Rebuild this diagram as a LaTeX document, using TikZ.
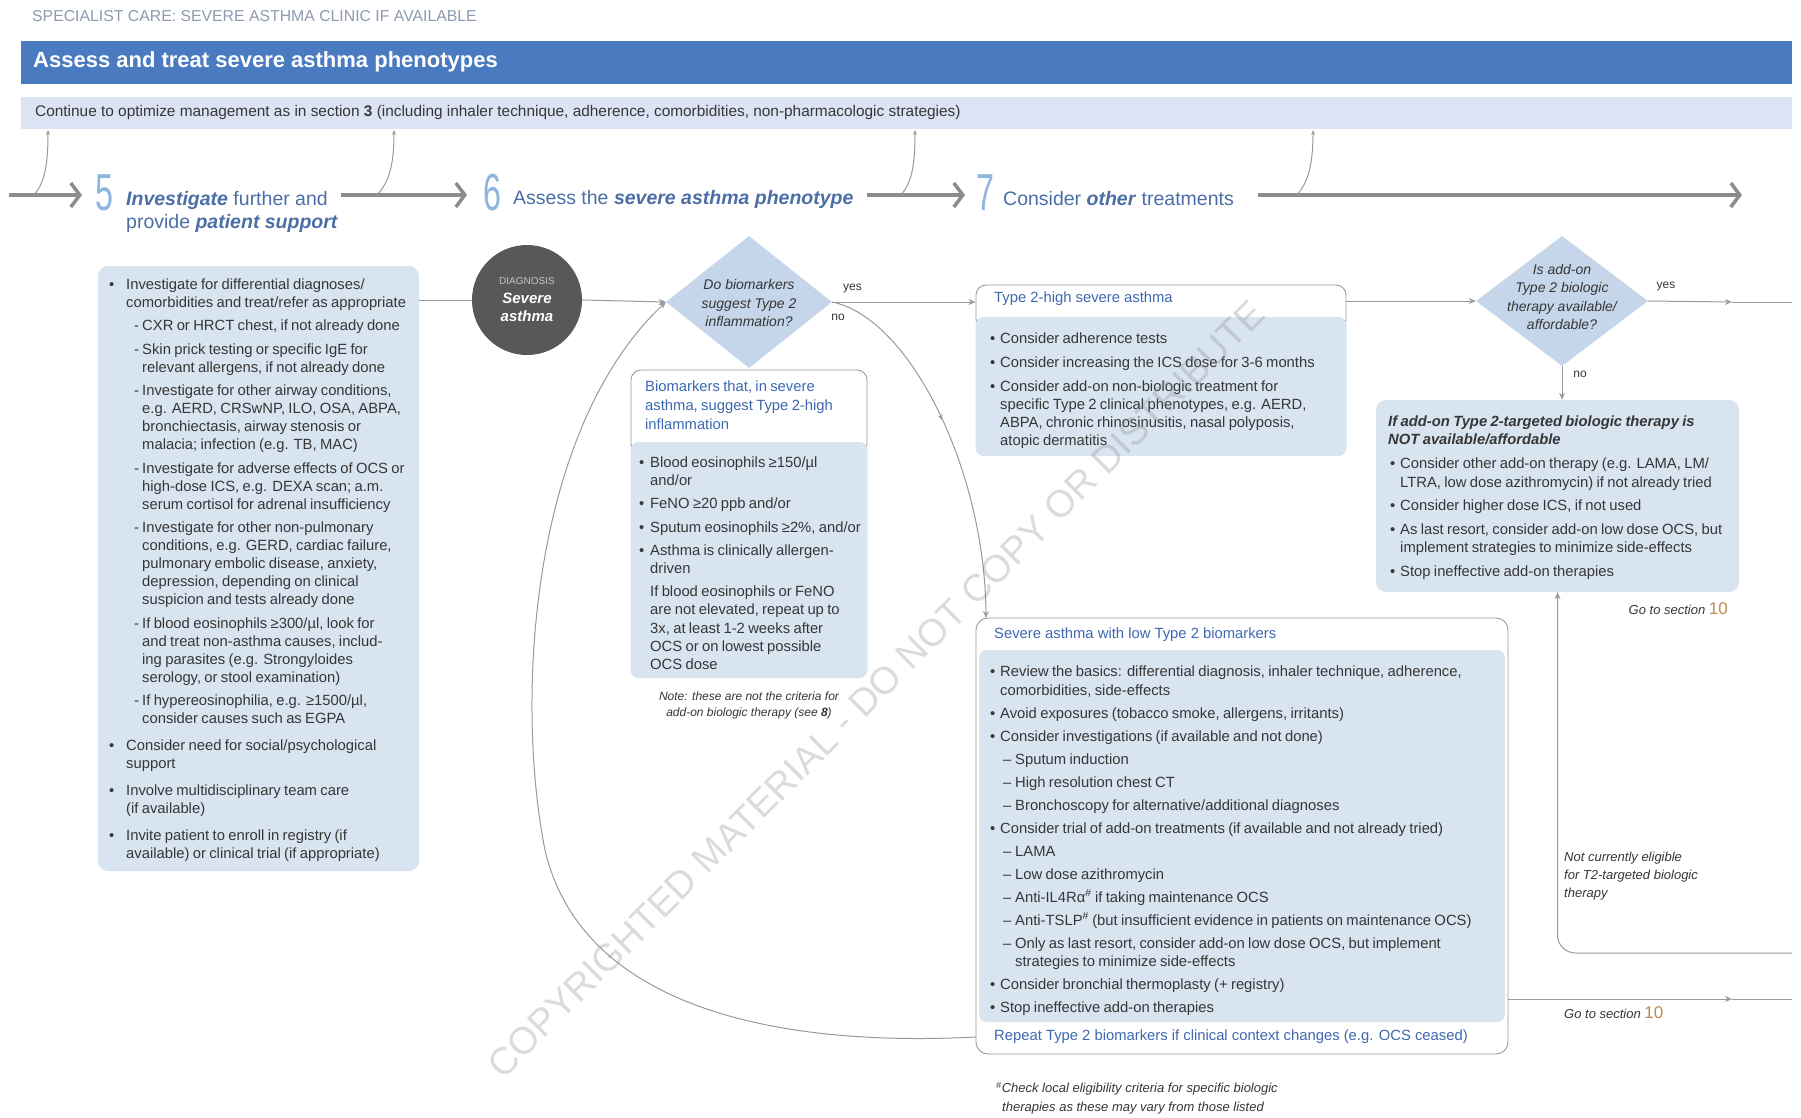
\documentclass[tikz,border=0pt]{standalone}
\usepackage{fontspec}
\setmainfont{Liberation Sans}
\usetikzlibrary{arrows.meta,shapes.geometric,calc,decorations.markings}

\definecolor{barblue}{HTML}{4A7BC1}
\definecolor{lightbar}{HTML}{DCE3F4}
\definecolor{boxfill}{HTML}{D9E4F1}
\definecolor{diafill}{HTML}{C5D6EA}
\definecolor{headblue}{HTML}{3E68B0}
\definecolor{stepblue}{HTML}{4C6EA6}
\definecolor{numblue}{HTML}{8EB4E0}
\definecolor{txt}{HTML}{363636}
\definecolor{arrgray}{HTML}{8C8C8C}
\definecolor{lngray}{HTML}{9A9A9A}
\definecolor{circfill}{HTML}{58585A}
\definecolor{topgray}{HTML}{8D9AB0}
\definecolor{orng}{HTML}{C08A4A}

\newcommand{\nl}{\hfil\break}
\newcommand{\dsh}{–}
\newlength{\bw}\newlength{\dl}\newlength{\dw}
\newcommand{\bi}[1]{\par\noindent\hangindent=\bw\hangafter=1\makebox[\bw][l]{\textbullet}#1}
\newcommand{\bix}[1]{\par\vskip3.5pt\noindent\hangindent=\bw\hangafter=1\makebox[\bw][l]{\textbullet}#1}
\newcommand{\si}[1]{\par\noindent\hangindent=\dimexpr\dl+\dw\relax\hangafter=1\hspace*{\dl}\makebox[\dw][l]{\dsh}#1}
\newcommand{\pl}[1]{\par\noindent\hangindent=\bw\hangafter=0 #1}

\tikzset{
  box/.style={rectangle, rounded corners=10pt, fill=boxfill, draw=none, inner sep=0pt},
  hbox/.style={rectangle, rounded corners=10pt, fill=white, draw=lngray, line width=0.9pt, inner sep=0pt},
  conn/.style={draw=lngray, line width=1pt},
  carr/.style={-{Stealth[length=7pt,width=6pt]}},
  uparr/.style={draw=lngray, line width=1pt, -{Stealth[length=5pt,width=4pt]}},
  bigarrow/.style={draw=arrgray, line width=4pt, -{Straight Barb[length=9pt,width=24pt,line width=3.5pt]}},
  txtblock/.style={inner sep=0pt, text width=440pt, text=txt},
  steptxt/.style={inner sep=0pt, text=stepblue, font=\fontsize{19.5}{23}\selectfont},
  num/.style={inner sep=0pt, text=numblue, font=\fontsize{52}{52}\selectfont},
  dtext/.style={inner sep=0pt, align=center, font=\fontsize{14}{18.5}\selectfont\itshape, text=txt},
  lbl/.style={inner sep=0pt, font=\fontsize{12}{14}\selectfont, text=txt},
  midarrow/.style={postaction={decorate, decoration={markings, mark=at position #1 with {\arrow{Stealth[length=6pt,width=5pt]}}}}}
}

\begin{document}
\begin{tikzpicture}[x=1pt,y=-1pt]
\useasboundingbox (0,0) rectangle (1801,1117);
\fill[white] (0,0) rectangle (1801,1117);

% ---------- header
\node[anchor=west, inner sep=0pt, text=topgray, font=\fontsize{15.8}{18}\selectfont] (sc) at (32,16) {SPECIALIST CARE: SEVERE ASTHMA CLINIC IF AVAILABLE};
\node[rectangle, fill=barblue, minimum width=1771pt, minimum height=43pt, inner sep=0pt, anchor=north west] (bar) at (21,41) {};
\node[anchor=west, inner sep=0pt, text=white, font=\fontsize{22}{24}\selectfont\bfseries] (bart) at (33,62) {Assess and treat severe asthma phenotypes};
\node[rectangle, fill=lightbar, minimum width=1771pt, minimum height=32pt, inner sep=0pt, anchor=north west] (lbar) at (21,97) {};
\node[anchor=west, inner sep=0pt, text=txt, font=\fontsize{15.4}{17}\selectfont] (lbart) at (35,113) {Continue to optimize management as in section \textbf{3} (including inhaler technique, adherence, comorbidities, non-pharmacologic strategies)};

% ---------- step row
\coordinate (a0s) at (9,195);   \coordinate (a0e) at (82,195);
\coordinate (a1s) at (341,195); \coordinate (a1e) at (467,195);
\coordinate (a2s) at (867,195); \coordinate (a2e) at (965,195);
\coordinate (a3s) at (1258,195);\coordinate (a3e) at (1742,195);
\draw[bigarrow] (a0s) -- (a0e);
\draw[bigarrow] (a1s) -- (a1e);
\draw[bigarrow] (a2s) -- (a2e);
\draw[bigarrow] (a3s) -- (a3e);

\coordinate (u1b) at (34,195);  \coordinate (u1t) at (48,130);
\coordinate (u2b) at (377,195); \coordinate (u2t) at (394,130);
\coordinate (u3b) at (901,195); \coordinate (u3t) at (915,130);
\coordinate (u4b) at (1297,195);\coordinate (u4t) at (1313,130);
\draw[uparr] (u1b) .. controls (44,183) and (48,168) .. (u1t);
\draw[uparr] (u2b) .. controls (388,183) and (394,168) .. (u2t);
\draw[uparr] (u3b) .. controls (911,183) and (915,168) .. (u3t);
\draw[uparr] (u4b) .. controls (1307,183) and (1313,168) .. (u4t);

\node[num, anchor=base] (n5) at (104,210) {\scalebox{0.62}[1]{5}};
\node[steptxt, anchor=north west, align=left] (t5) at (126,191) {\textbf{\textit{Investigate}} further and\\provide \textbf{\textit{patient support}}};
\node[num, anchor=base] (n6) at (492,210) {\scalebox{0.62}[1]{6}};
\node[steptxt, anchor=west] (t6) at (513,199) {Assess the \textbf{\textit{severe asthma phenotype}}};
\node[num, anchor=base] (n7) at (985,210) {\scalebox{0.62}[1]{7}};
\node[steptxt, anchor=west] (t7) at (1003,199) {Consider \textbf{\textit{other}} treatments};

% ---------- left box
\node[box, minimum width=321pt, minimum height=605pt] (lb) at (258.5,568.5) {};
\node[txtblock, anchor=north west] (lbt) at (109,265.5) {\fontsize{14.8}{18}\selectfont\renewcommand{\dsh}{-}\setlength{\bw}{17pt}\setlength{\dl}{25pt}\setlength{\dw}{8pt}\setlength{\parskip}{5.5pt}%
\bi{Investigate for differential diagnoses/\nl comorbidities and treat/refer as appropriate}
\si{CXR or HRCT chest, if not already done}
\si{Skin prick testing or specific IgE for\nl relevant allergens, if not already done}
\si{Investigate for other airway conditions,\nl e.g. AERD, CRSwNP, ILO, OSA, ABPA,\nl bronchiectasis, airway stenosis or\nl malacia; infection (e.g. TB, MAC)}
\si{Investigate for adverse effects of OCS or\nl high-dose ICS, e.g. DEXA scan; a.m.\nl serum cortisol for adrenal insufficiency}
\si{Investigate for other non-pulmonary\nl conditions, e.g. GERD, cardiac failure,\nl pulmonary embolic disease, anxiety,\nl depression, depending on clinical\nl suspicion and tests already done}
\si{If blood eosinophils ≥300/µl, look for\nl and treat non-asthma causes, includ-\nl ing parasites (e.g. Strongyloides\nl serology, or stool examination)}
\si{If hypereosinophilia, e.g. ≥1500/µl,\nl consider causes such as EGPA}
\bix{Consider need for social/psychological\nl support}
\bix{Involve multidisciplinary team care\nl (if available)}
\bix{Invite patient to enroll in registry (if\nl available) or clinical trial (if appropriate)}\par};

% ---------- diagnosis circle
\node[circle, fill=circfill, minimum size=110pt, inner sep=0pt, align=center, text=white, font=\fontsize{15}{18}\selectfont\bfseries\itshape] (circ) at (527,300)
  {{\fontsize{10}{11}\selectfont\mdseries\upshape\color{gray!45}DIAGNOSIS}\\[1pt]Severe\\asthma};

% ---------- diamond 1
\node[diamond, fill=diafill, minimum width=166pt, minimum height=132pt, inner sep=0pt] (d1) at (749,302) {};
\node[dtext] (d1t) at (749,303) {Do biomarkers\\suggest Type 2\\inflammation?};

% ---------- biomarkers box
\node[hbox, minimum width=236pt, minimum height=84pt] (bmh) at (749,412) {};
\node[box, rounded corners=8pt, minimum width=237pt, minimum height=236pt] (bmb) at (749,560) {};
\node[txtblock, anchor=north west, text=headblue] (bmht) at (645,381) {\fontsize{14.8}{19}\selectfont Biomarkers that, in severe\nl asthma, suggest Type 2-high\nl inflammation\par};
\node[txtblock, anchor=north west] (bmbt) at (639,444) {\fontsize{14.8}{18.2}\selectfont\setlength{\bw}{11pt}\setlength{\parskip}{5pt}%
\bi{Blood eosinophils ≥150/µl\nl and/or}
\bi{FeNO ≥20 ppb and/or}
\bi{Sputum eosinophils ≥2\%, and/or}
\bi{Asthma is clinically allergen-\nl driven}
\pl{If blood eosinophils or FeNO\nl are not elevated, repeat up to\nl 3x, at least 1-2 weeks after\nl OCS or on lowest possible\nl OCS dose}\par};
\node[inner sep=0pt, align=center, font=\fontsize{12}{16}\selectfont\itshape, text=txt] (note) at (749,705) {Note: these are not the criteria for\\add-on biologic therapy (see \textbf{8})};

% ---------- Type 2 high box
\node[hbox, minimum width=370pt, minimum height=44pt] (t2h) at (1161,307) {};
\node[box, rounded corners=8pt, minimum width=371pt, minimum height=139pt] (t2b) at (1161,386.5) {};
\node[anchor=west, inner sep=0pt, text=headblue, font=\fontsize{14.8}{18}\selectfont] (t2ht) at (994,299) {Type 2-high severe asthma};
\node[txtblock, anchor=north west] (t2bt) at (990,319) {\fontsize{14.8}{18}\selectfont\setlength{\bw}{10pt}\setlength{\parskip}{6pt}%
\bi{Consider adherence tests}
\bi{Consider increasing the ICS dose for 3-6 months}
\bi{Consider add-on non-biologic treatment for\nl specific Type 2 clinical phenotypes, e.g. AERD,\nl ABPA, chronic rhinosinusitis, nasal polyposis,\nl atopic dermatitis}\par};

% ---------- diamond 2
\node[diamond, fill=diafill, minimum width=172pt, minimum height=130pt, inner sep=0pt] (d2) at (1562,301) {};
\node[dtext] (d2t) at (1562,297) {Is add-on\\Type 2 biologic\\therapy available/\\affordable?};

% ---------- not available box
\node[box, minimum width=363pt, minimum height=192pt] (na) at (1557.5,496) {};
\node[txtblock, anchor=north west] (nah) at (1388,416) {\fontsize{14.8}{18}\selectfont\bfseries\itshape If add-on Type 2-targeted biologic therapy is\nl NOT available/affordable\par};
\node[txtblock, anchor=north west] (nab) at (1390,445) {\fontsize{14.8}{18.5}\selectfont\setlength{\bw}{10pt}\setlength{\parskip}{5pt}%
\bi{Consider other add-on therapy (e.g. LAMA, LM/\nl LTRA, low dose azithromycin) if not already tried}
\bi{Consider higher dose ICS, if not used}
\bi{As last resort, consider add-on low dose OCS, but\nl implement strategies to minimize side-effects}
\bi{Stop ineffective add-on therapies}\par};
\node[anchor=east, inner sep=0pt, text=txt, font=\fontsize{13}{15}\selectfont\itshape] (go1) at (1728,609) {Go to section {\upshape\fontsize{17}{17}\selectfont\color{orng}10}};

% ---------- low type 2 box
\node[hbox, rounded corners=12pt, minimum width=532pt, minimum height=436pt] (lt) at (1242,836) {};
\node[box, rounded corners=8pt, minimum width=526pt, minimum height=372pt] (ltb) at (1242,836) {};
\node[anchor=west, inner sep=0pt, text=headblue, font=\fontsize{14.8}{18}\selectfont] (lth) at (994,635) {Severe asthma with low Type 2 biomarkers};
\node[txtblock, text width=640pt, anchor=north west] (ltbt) at (990,653.5) {\fontsize{14.8}{18.5}\selectfont\setlength{\bw}{10pt}\setlength{\dl}{13pt}\setlength{\dw}{12pt}\setlength{\parskip}{4.5pt}%
\bi{Review the basics: differential diagnosis, inhaler technique, adherence,\nl comorbidities, side-effects}
\bi{Avoid exposures (tobacco smoke, allergens, irritants)}
\bi{Consider investigations (if available and not done)}
\si{Sputum induction}
\si{High resolution chest CT}
\si{Bronchoscopy for alternative/additional diagnoses}
\bi{Consider trial of add-on treatments (if available and not already tried)}
\si{LAMA}
\si{Low dose azithromycin}
\si{Anti-IL4Rα\textsuperscript{\#} if taking maintenance OCS}
\si{Anti-TSLP\textsuperscript{\#} (but insufficient evidence in patients on maintenance OCS)}
\si{Only as last resort, consider add-on low dose OCS, but implement\nl strategies to minimize side-effects}
\bi{Consider bronchial thermoplasty (+ registry)}
\bi{Stop ineffective add-on therapies}\par};
\node[anchor=west, inner sep=0pt, text=headblue, font=\fontsize{14.8}{18}\selectfont] (ltf) at (994,1037) {Repeat Type 2 biomarkers if clinical context changes (e.g. OCS ceased)};

\node[anchor=north west, inner sep=0pt, align=left, font=\fontsize{13}{19}\selectfont\itshape, text=txt] (fn) at (996,1082) {\textsuperscript{\#}Check local eligibility criteria for specific biologic\\\hspace*{6pt}therapies as these may vary from those listed};

\node[anchor=north west, inner sep=0pt, align=left, font=\fontsize{13}{18}\selectfont\itshape, text=txt] (nce) at (1564,852) {Not currently eligible\\for T2-targeted biologic\\therapy};
\node[anchor=west, inner sep=0pt, text=txt, font=\fontsize{13}{15}\selectfont\itshape] (go2) at (1564,1013) {Go to section {\upshape\fontsize{17}{17}\selectfont\color{orng}10}};

% ---------- connectors
\draw[conn] (lb.east |- circ.west) -- (circ.west);
\draw[conn, carr] (circ.east) -- (d1.west);
\draw[conn, carr] (d1.east) -- (t2h.west |- d1.east);
\node[lbl, anchor=west] (y1) at (843,289) {yes};
\node[lbl] (no1) at (838,317) {no};
\draw[conn, carr] (t2h.east |- d2.west) -- (d2.west);
\coordinate (m1) at (1732,302); \coordinate (e1) at (1792,302);
\draw[conn, carr] (d2.east) -- (m1);
\draw[conn] (m1) -- (e1);
\node[lbl] (y2) at (1666,287) {yes};
\draw[conn, carr] (d2.south) -- (d2.south |- na.north);
\node[lbl] (no2) at (1580,374) {no};

\coordinate (ltin) at (986,618);
\draw[conn, carr, midarrow=0.45] (d1.east) .. controls (910,318) and (985,470) .. (ltin);

\coordinate (lpa) at (976,1037);
\coordinate (lpb) at (545,850);
\draw[conn] (lpa) .. controls (760,1048) and (580,1000) .. (lpb);
\draw[conn, carr] (lpb) .. controls (515,700) and (530,430) .. (d1.west);

\coordinate (e3) at (1792,953);
\draw[conn, carr, rounded corners=18pt] (e3) -| (na.south);

\coordinate (m2) at (1732,999); \coordinate (e2) at (1792,999);
\draw[conn, carr] (lt.east |- m2) -- (m2);
\draw[conn] (m2) -- (e2);

% ---------- watermark
\node[rotate=45, inner sep=0pt, text=gray, opacity=0.28, font=\fontsize{38}{40}\selectfont] (wm) at (876,689) {COPYRIGHTED MATERIAL - DO NOT COPY OR DISTRIBUTE};
\end{tikzpicture}
\end{document}
